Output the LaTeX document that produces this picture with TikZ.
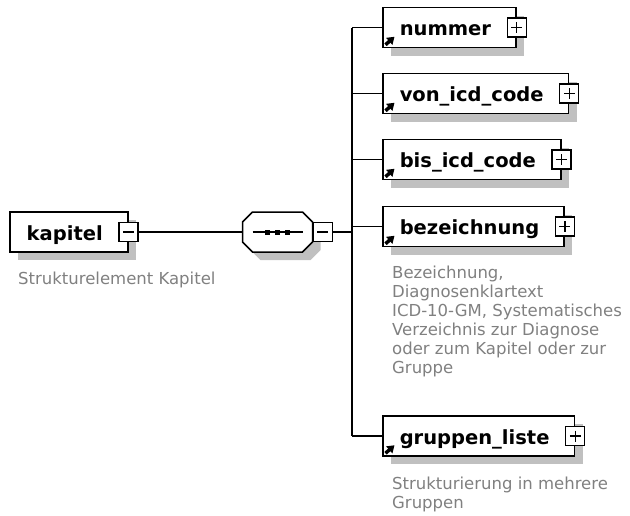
\documentclass[tikz,border=0pt]{standalone}
\usepackage{fontspec}
\setmainfont{DejaVu Sans}
\usetikzlibrary{shadows,arrows.meta}

\definecolor{shadegray}{RGB}{192,192,192}
\definecolor{notegray}{RGB}{128,128,128}

\tikzset{
    wire/.style={line width=1.5pt},
    elem/.style={draw, fill=white, line width=1.5pt, minimum height=40pt,
        inner xsep=0pt, inner ysep=0pt, text height=16pt, text depth=0pt,
        font=\fontsize{19.5}{22}\selectfont\bfseries,
        execute at begin node={\hspace*{17pt}},
        execute at end node={\hspace*{25pt}},
        drop shadow={shadow xshift=8pt, shadow yshift=-8pt, fill=shadegray, opacity=1}},
    seqframe/.style={minimum width=70pt, minimum height=40pt, inner sep=0pt},
    togglebox/.style={draw, fill=white, line width=1.2pt, minimum size=19pt, inner sep=0pt},
    minusbox/.style={togglebox,
        path picture={\draw[line width=1.2pt]
            ([xshift=4pt]path picture bounding box.west) -- ([xshift=-4pt]path picture bounding box.east);}},
    plusbox/.style={togglebox,
        path picture={\draw[line width=1.2pt]
            ([xshift=4pt]path picture bounding box.west) -- ([xshift=-4pt]path picture bounding box.east)
            ([yshift=-4pt]path picture bounding box.north) -- ([yshift=4pt]path picture bounding box.south);}},
    refarrow/.style={line width=3.5pt, -{Triangle[length=7pt,width=9pt]}},
    note/.style={anchor=north west, inner sep=0pt, text=notegray, align=left,
        font=\fontsize{16.5}{19}\selectfont}
}

\begin{document}
\begin{tikzpicture}[x=1pt, y=-1pt]
                \useasboundingbox (0,0) rectangle (630,515);

                % Root element
                \node[elem, anchor=west] (kapitel) at (9,232) {kapitel};
                \node[minusbox] (kapitel-minus) at (kapitel.east) {};
                \node[note] (kapitel-note) at ([shift={(9,19)}]kapitel.south west) {Strukturelement Kapitel};

                % Sequence
                \node[seqframe] (seq) at (277.5,232) {};
                \fill[shadegray] ([shift={(8,8)}]seq.center) +(-25,-20) -- +(25,-20) -- +(35,-10) -- +(35,10)
                    -- +(25,20) -- +(-25,20) -- +(-35,10) -- +(-35,-10) -- cycle;
                \filldraw[fill=white, line width=1.5pt] (seq.center) +(-25,-20) -- +(25,-20) -- +(35,-10) -- +(35,10)
                    -- +(25,20) -- +(-25,20) -- +(-35,10) -- +(-35,-10) -- cycle;
                \node[minusbox, anchor=west] (seq-minus) at (seq.east) {};
                \draw[line width=1.2pt] ([xshift=-25pt]seq.center) -- ([xshift=25pt]seq.center);
                \foreach \dx in {-10,0,10}
                    \fill ([xshift=\dx pt]seq.center) +(-2.5,-2.5) rectangle +(2.5,2.5);

                % Children
                \node[elem, anchor=west] (nummer) at (382,27.5) {nummer};
                \node[elem, anchor=west] (vonicd) at (382,93.5) {von\_icd\_code};
                \node[elem, anchor=west] (bisicd) at (382,159.5) {bis\_icd\_code};
                \node[elem, anchor=west] (bez) at (382,226.5) {bezeichnung};
                \node[elem, anchor=west] (gruppen) at (382,436) {gruppen\_liste};

                \node[note] (bez-note) at ([shift={(10,19)}]bez.south west)
                    {Bezeichnung,\\Diagnosenklartext\\ICD-10-GM, Systematisches\\Verzeichnis zur Diagnose\\oder zum Kapitel oder zur\\Gruppe};
                \node[note] (gruppen-note) at ([shift={(10,20)}]gruppen.south west)
                    {Strukturierung in mehrere\\Gruppen};

                % Wires
                \coordinate (bus) at (352,232);
                \draw[wire] (kapitel-minus) -- (seq);
                \draw[wire] (seq-minus) -- (bus);
                \draw[wire] (bus |- nummer.west) -- (bus |- gruppen.west);

                \foreach \n in {nummer,vonicd,bisicd,bez,gruppen} {
                    \draw[wire] (bus |- \n.west) -- (\n.west);
                    \node[plusbox] (\n-plus) at (\n.east) {};
                    \draw[refarrow] ([shift={(3.5,-3.5)}]\n.south west) -- ++(9,-8);
                }
            \end{tikzpicture}
\end{document}
